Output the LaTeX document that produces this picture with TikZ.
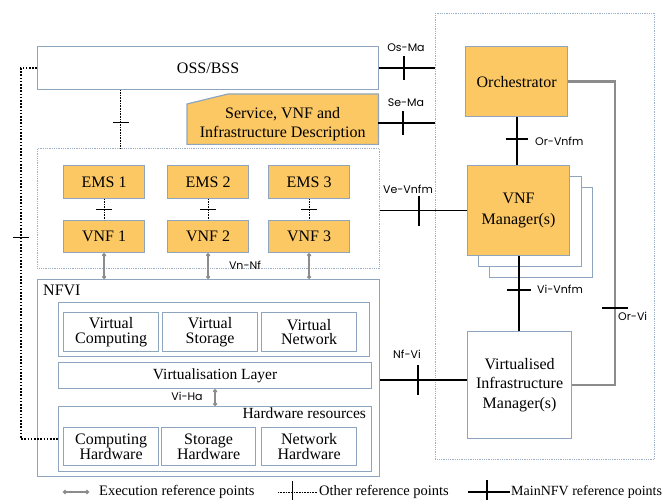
\documentclass[tikz,border=0pt]{standalone}
\usepackage{fontspec}
\setmainfont{Liberation Serif}
\newfontfamily\labfont{Poppins}
\usetikzlibrary{arrows.meta,calc}
\definecolor{orangefill}{HTML}{FCC864}
\definecolor{boxborder}{HTML}{8FA5BF}
\definecolor{dotborder}{HTML}{9BB0C8}
\definecolor{execgray}{HTML}{8C8C8C}
\begin{document}
\begin{tikzpicture}[x=1pt,y=-1pt,
 box/.style={draw=boxborder, line width=1.2pt, fill=white, inner sep=0pt, align=center, anchor=north west, font=\fontsize{16}{19}\selectfont},
 obox/.style={box, fill=orangefill},
 dotregion/.style={draw=dotborder, line width=0.9pt, dash pattern=on 0.9pt off 0.9pt, inner sep=0pt, anchor=north west},
 mainref/.style={draw=black, line width=1.8pt},
 otherref/.style={draw=black, line width=0.7pt, dash pattern=on 0.8pt off 0.8pt},
 othertick/.style={draw=black, line width=0.8pt},
 leftdot/.style={draw=black, line width=1.6pt, dash pattern=on 1.6pt off 1.6pt},
 execref/.style={draw=execgray, line width=1.6pt, {Circle[length=4pt]}-{Circle[length=4pt]}},
 orvi/.style={draw=execgray, line width=2.4pt},
 lab/.style={font=\labfont\fontsize{11}{13}\selectfont, inner sep=0pt},
 legend/.style={font=\fontsize{14.5}{16}\selectfont, anchor=west, inner sep=0pt},
 tight/.style={font=\fontsize{16}{14.5}\selectfont},
]
\useasboundingbox (0,0) rectangle (665,500);

% regions
\node[dotregion, minimum width=219, minimum height=446] (orch) at (435,13) {};
\node[dotregion, minimum width=342, minimum height=120] (vnfreg) at (37,148) {};

% OSS/BSS
\node[box, minimum width=341, minimum height=43] (oss) at (37,46) {OSS/BSS};

% Service description
\node[minimum width=191, minimum height=50, inner sep=0pt, anchor=north west] (svc) at (187,94) {};
\draw[boxborder, line width=1.2pt, fill=orangefill] ([yshift=-10]svc.north west) -- ([xshift=41]svc.north west) -- (svc.north east) -- (svc.south east) -- (svc.south west) -- cycle;
\node[align=center, inner sep=0pt, font=\fontsize{16}{19}\selectfont] (svctext) at ([yshift=-5]svc.center) {Service, VNF and\\Infrastructure Description};

% MANO
\node[obox, minimum width=102, minimum height=70] (orc) at (465,46) {Orchestrator};
\node[box, minimum width=103, minimum height=90] (vnfm3) at (489,187) {};
\node[box, minimum width=103, minimum height=90] (vnfm2) at (478,176) {};
\node[obox, minimum width=102, minimum height=90, font=\fontsize{16}{21}\selectfont] (vnfm) at (467,165) {VNF\\Manager(s)};
\node[box, minimum width=104, minimum height=107, font=\fontsize{16}{19.5}\selectfont] (vim) at (467,331) {Virtualised\\Infrastructure\\Manager(s)};

% EMS / VNF
\node[obox, minimum width=81, minimum height=33] (ems1) at (63,165) {EMS 1};
\node[obox, minimum width=81, minimum height=33] (ems2) at (167,165) {EMS 2};
\node[obox, minimum width=81, minimum height=33] (ems3) at (268,165) {EMS 3};
\node[obox, minimum width=81, minimum height=32] (vnf1) at (63,220) {VNF 1};
\node[obox, minimum width=81, minimum height=32] (vnf2) at (167,220) {VNF 2};
\node[obox, minimum width=81, minimum height=32] (vnf3) at (268,220) {VNF 3};

% NFVI
\node[box, minimum width=342, minimum height=197] (nfvi) at (37,279) {};
\node[anchor=base west, inner sep=0pt, font=\fontsize{16}{19}\selectfont] (nfvilabel) at ([xshift=6,yshift=-17]nfvi.north west) {NFVI};
\node[box, minimum width=311, minimum height=54] (virt) at (58,302) {};
\node[box, tight, minimum width=95, minimum height=39] (vc) at (63,312) {Virtual\\Computing};
\node[box, tight, minimum width=95, minimum height=39] (vs) at (162,312) {Virtual\\Storage};
\node[box, tight, minimum width=95, minimum height=39] (vn) at (261,312) {Virtual\\Network};
\node[box, minimum width=313, minimum height=26, font=\fontsize{15.5}{18}\selectfont] (vl) at (58,362) {Virtualisation Layer};
\node[box, minimum width=313, minimum height=65] (hw) at (58,406) {};
\node[anchor=base east, inner sep=0pt, font=\fontsize{15.5}{18}\selectfont] (hwlabel) at ([xshift=-6,yshift=-12]hw.north east) {Hardware resources};
\node[box, tight, minimum width=95, minimum height=38] (ch) at (63,427) {Computing\\Hardware};
\node[box, tight, minimum width=94, minimum height=38] (sh) at (161,427) {Storage\\Hardware};
\node[box, tight, minimum width=95, minimum height=38] (nh) at (261,427) {Network\\Hardware};

% Main reference points
\draw[mainref] (oss.east) -- coordinate[pos=0.44] (osmat) (oss.east -| orch.west);
\draw[mainref] ([yshift=12]osmat) -- ([yshift=-12]osmat);
\node[lab] (osmal) at (406,48) {Os-Ma};

\draw[mainref] ([yshift=-4]svc.east) -- coordinate[pos=0.44] (semat) ([yshift=-4]svc.east -| orch.west);
\draw[mainref] ([yshift=12]semat) -- ([yshift=-12]semat);
\node[lab] (semal) at (406,103) {Se-Ma};

\draw[mainref] (orc.south) -- coordinate[pos=0.45] (orvt) (orc.south |- vnfm.north);
\draw[mainref] ([xshift=-11]orvt) -- ([xshift=11]orvt);
\node[lab, anchor=west] (orvl) at (535,141) {Or-Vnfm};

\draw[mainref] (vnfm.west -| vnfreg.east) -- coordinate[pos=0.45] (vevt) (vnfm.west);
\draw[mainref] ([yshift=15]vevt) -- ([yshift=-15]vevt);
\node[lab] (vevl) at (408,189) {Ve-Vnfm};

\draw[mainref] (vnfm.south) -- coordinate[pos=0.45] (vivt) (vnfm.south |- vim.north);
\draw[mainref] ([xshift=-12]vivt) -- ([xshift=12]vivt);
\node[lab, anchor=west] (vivl) at (537,289) {Vi-Vnfm};

\draw[mainref] ([yshift=5]vim.west -| nfvi.east) -- coordinate[pos=0.44] (nfvt) ([yshift=5]vim.west);
\draw[mainref] ([yshift=15]nfvt) -- ([yshift=-15]nfvt);
\node[lab] (nfvl) at (407,354) {Nf-Vi};

\draw[orvi] (orc.east) -- ++(47,0) coordinate (orvic) |- (vim.east);
\coordinate (orvit) at ($(orvic)!0.746!(orvic |- vim.east)$);
\draw[black, line width=1.5pt] ([xshift=-13]orvit) -- ([xshift=13]orvit);
\node[lab, anchor=west] (orvil) at (618,316) {Or-Vi};

% Other reference points
\draw[otherref] ([xshift=-87.5]oss.south) -- coordinate[pos=0.56] (ossvt) ([xshift=-87.5]oss.south |- vnfreg.north);
\draw[othertick] ([xshift=-8]ossvt) -- ([xshift=8]ossvt);
\foreach \i in {1,2,3} {
  \draw[otherref] (ems\i.south) -- coordinate (evt\i) (vnf\i.north);
  \draw[othertick] ([xshift=-8]evt\i) -- ([xshift=8]evt\i);
}
\draw[leftdot] (oss.west) -- ++(-16,0) coordinate (ldc) |- (hw.west);
\coordinate (ldt) at ($(ldc)!0.457!(ldc |- hw.west)$);
\draw[othertick] ([xshift=-8]ldt) -- ([xshift=8]ldt);

% Execution reference points
\foreach \i in {1,2,3} {
  \draw[execref] (vnf\i.south) -- (vnf\i.south |- nfvi.north);
}
\node[lab] (vnnfl) at (245,265) {Vn-Nf};
\draw[execref] (vl.south) -- (hw.north);
\node[lab] (vihal) at (187,396) {Vi-Ha};

% Legend
\coordinate (lgea) at (63,492);
\coordinate (lgeb) at (89,492);
\draw[execref] (lgea) -- (lgeb);
\node[legend] (lget) at (99,492) {Execution reference points};
\coordinate (lgoa) at (278,492);
\coordinate (lgob) at (317,492);
\draw[otherref] (lgoa) -- coordinate[pos=0.38] (lgot) (lgob);
\draw[othertick] ([yshift=11]lgot) -- ([yshift=-11]lgot);
\node[legend] (lgotx) at (319,492) {Other reference points};
\coordinate (lgma) at (468,492);
\coordinate (lgmb) at (510,492);
\draw[mainref] (lgma) -- coordinate[pos=0.45] (lgmt) (lgmb);
\draw[mainref] ([yshift=12]lgmt) -- ([yshift=-12]lgmt);
\node[legend, font=\fontsize{14}{16}\selectfont] (lgmtx) at (511,492) {MainNFV reference points};
\end{tikzpicture}
\end{document}
